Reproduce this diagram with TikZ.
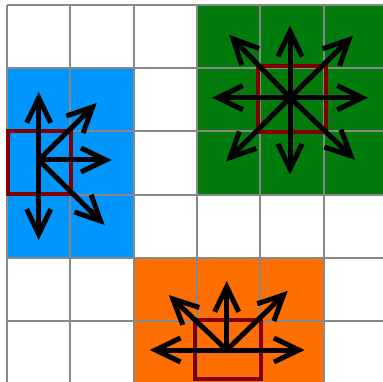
\documentclass[tikz,border=0pt]{standalone}
\usetikzlibrary{arrows.meta}
\definecolor{cblue}{RGB}{0,150,255}
\definecolor{cgreen}{RGB}{0,123,12}
\definecolor{corange}{RGB}{255,110,0}
\definecolor{cred}{RGB}{128,0,0}
\definecolor{cgrid}{RGB}{136,136,136}
\pgfdeclarearrow{
  name = Chev,
  setup code = {
    \pgfarrowssettipend{0pt}
    \pgfarrowssetlineend{-5.8pt}
    \pgfarrowssetbackend{-32pt}
    \pgfarrowshullpoint{0pt}{0pt}
    \pgfarrowsupperhullpoint{-32pt}{14.5pt}
  },
  drawing code = {
    \pgfsetdash{}{+0pt}
    \pgfsetbuttcap
    \pgfsetmiterjoin
    \pgfsetlinewidth{5pt}
    \pgfpathmoveto{\pgfqpoint{-30.8pt}{12pt}}
    \pgfpathlineto{\pgfqpoint{-5.8pt}{0pt}}
    \pgfpathlineto{\pgfqpoint{-30.8pt}{-12pt}}
    \pgfusepathqstroke
  }
}
\begin{document}
\begin{tikzpicture}[x=1pt,y=-1pt,
  gridline/.style={draw=cgrid,line width=2pt},
  redsq/.style={draw=cred,line width=4pt},
  mv/.style={draw=black,line width=5pt,-{Chev}}]
\useasboundingbox (0,0) rectangle (383,382);
% coloured regions
\fill[cblue] (7,68.2) rectangle (133.6,257.8);
\fill[cgreen] (196.9,5) rectangle (390,194.6);
\fill[corange] (133.6,257.8) rectangle (322.5,390);
% grid
\foreach \i in {0,...,6} {
  \draw[gridline] ({7+63.3*\i},5) -- ({7+63.3*\i},390);
  \draw[gridline] (7,{5+63.2*\i}) -- (390,{5+63.2*\i});
}
% red squares
\draw[redsq] (8,131.3) rectangle (70.7,194);
\draw[redsq] (258,65.8) rectangle (325.8,132.5);
\draw[redsq] (195,319.5) rectangle (261,378.5);
% blue piece moves
\coordinate (bO) at (38.7,160);
\draw[mv] (bO) -- ++(0,-68);
\draw[mv] (bO) -- ++(0,80);
\draw[mv] (bO) -- ++(73,0);
\draw[mv] (bO) -- ++(58,-57);
\draw[mv] (bO) -- ++(66,65);
% green piece moves
\coordinate (gO) at (290,97.7);
\draw[mv] (gO) -- ++(0,-72);
\draw[mv] (gO) -- ++(0,77);
\draw[mv] (gO) -- ++(-78,0);
\draw[mv] (gO) -- ++(78,0);
\draw[mv] (gO) -- ++(-61,-63);
\draw[mv] (gO) -- ++(63,-62);
\draw[mv] (gO) -- ++(-64,64);
\draw[mv] (gO) -- ++(65,62);
% orange piece moves
\coordinate (oO) at (226.7,350);
\draw[mv] (oO) -- ++(0,-69);
\draw[mv] (oO) -- ++(-77,0);
\draw[mv] (oO) -- ++(78,0);
\draw[mv] (oO) -- ++(-58,-55);
\draw[mv] (oO) -- ++(61,-59);
\end{tikzpicture}
\end{document}
